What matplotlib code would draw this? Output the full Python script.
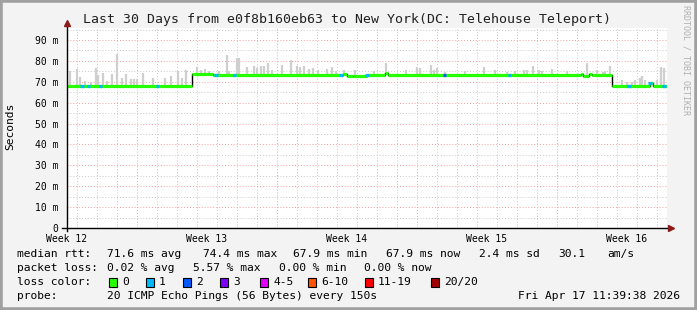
import matplotlib
matplotlib.use("Agg")
import matplotlib.pyplot as plt
import numpy as np
from matplotlib.patches import Rectangle

W, H = 697, 310
MONO = "DejaVu Sans Mono"

# median rtt as a step function (days since start, ms)
med_x = [0, 6.25, 7.3, 13.8, 14.0, 14.3, 15.0, 15.9, 16.05, 25.7, 25.8, 26.1, 26.25, 27.25, 29.13, 29.3, 30]
med_y = [67.9, 73.7, 73.2, 73.5, 72.8, 72.6, 73.2, 74.2, 73.2, 73.6, 72.8, 73.5, 73.2, 67.9, 69.2, 67.9]

# smoke spikes (day, max ms)
spike_day = [0.13, 0.5, 0.63, 0.9, 1.2, 1.47, 1.55, 1.8, 2.0, 2.25, 2.5, 2.75, 2.97, 3.2, 3.35, 3.5,
             3.8, 4.3, 4.88, 5.2, 5.55, 5.75, 5.97,
             6.5, 6.7, 6.9, 7.08, 7.58, 8.0, 8.08, 8.5, 8.58, 9.0, 9.37, 9.5, 9.72, 9.83, 10.03, 10.25,
             10.75, 11.2, 11.5, 11.67, 11.87, 12.12, 12.3, 12.53, 13.0, 13.25, 13.47, 13.87, 14.42,
             15.33, 15.97, 16.97, 17.5, 17.63, 18.22, 18.33, 18.5, 18.92, 19.92, 20.83, 21.42, 22.0, 22.42,
             22.87, 23.0, 23.3, 23.58, 23.75, 24.25, 25.0, 26.0, 26.5, 26.8, 26.92, 27.13,
             27.75, 28.0, 28.25, 28.42, 28.63, 28.75, 28.92, 29.17, 29.5, 29.7, 29.83]
spike_max = [75.2, 76.1, 72.3, 70.5, 70.0, 76.4, 73.2, 74.0, 70.5, 73.6, 83.1, 71.6, 73.6, 71.2, 71.2, 71.2,
             74.0, 72.0, 71.6, 72.9, 75.2, 72.0, 75.6,
             77.2, 75.5, 76.0, 75.2, 75.2, 82.8, 75.2, 81.2, 81.2, 77.2, 77.7, 76.4, 77.7, 77.7, 78.8, 75.6,
             78.0, 80.4, 77.7, 77.2, 77.7, 76.1, 76.6, 75.6, 76.1, 77.2, 75.2, 75.6, 75.6,
             75.2, 78.8, 75.6, 77.2, 76.6, 78.0, 75.6, 76.4, 74.5, 75.2, 77.2, 75.6, 74.8, 75.2,
             75.6, 75.6, 77.7, 75.6, 75.2, 76.1, 75.2, 78.9, 75.6, 74.8, 75.2, 77.7,
             70.9, 69.8, 70.1, 70.9, 71.6, 72.9, 70.9, 70.1, 70.9, 77.2, 76.4]

# points with packet loss
loss_day = [0.75, 1.08, 1.67, 4.53, 7.45, 8.37, 13.7, 15.0, 18.87, 22.13, 28.1, 29.15, 29.85]
loss_col = ['#00b8ff', '#00b8ff', '#00b8ff', '#00b8ff', '#00b8ff', '#00b8ff', '#00b8ff',
            '#00b8ff', '#0059ff', '#00b8ff', '#00b8ff', '#00b8ff', '#00b8ff']

week_pos = [0, 7, 14, 21, 28]
week_labels = ["Week 12", "Week 13", "Week 14", "Week 15", "Week 16"]
y_ticks = [0, 10, 20, 30, 40, 50, 60, 70, 80, 90]

legend_names = ["0", "1", "2", "3", "4-5", "6-10", "11-19", "20/20"]
legend_colors = ['#26ff00', '#00b8ff', '#0059ff', '#7e00ff', '#dd00ff', '#ff5500', '#ff0000', '#a10000']
legend_x = [109, 146, 183, 220, 260, 308, 365, 431]


def med_at(d):
    i = np.searchsorted(med_x, d, side='right') - 1
    i = min(max(i, 0), len(med_y) - 1)
    return med_y[i]


def fx(x):
    return x / W


def fy(y):
    return 1 - y / H


fig = plt.figure(figsize=(W / 100, H / 100), dpi=100, facecolor='#f3f3f3')

# 3d frame
fig.patches.append(Rectangle((0, 0), 1, 1, transform=fig.transFigure, fill=False,
                             edgecolor='#a0a0a0', lw=4))

ax = fig.add_axes([fx(67), fy(228), 600 / W, 200 / H])
ax.set_facecolor('white')
ax.set_xlim(0, 30)
ax.set_ylim(0, 200 / 2.089)
for s in ax.spines.values():
    s.set_visible(False)

# grid
for v in np.arange(5, 96, 5):
    if v % 10 == 0:
        ax.axhline(v, color='#f5a0a0', lw=0.7, ls=(0, (1, 2)), zorder=1)
    else:
        ax.axhline(v, color='#c8c8c8', lw=0.7, ls=(0, (1, 2)), zorder=1)
for d in np.arange(0.5, 30, 1.0):
    if (d - 3.5) % 7 == 0:
        ax.axvline(d, color='#f5a0a0', lw=0.7, ls=(0, (1, 2)), zorder=1)
    else:
        ax.axvline(d, color='#c8c8c8', lw=0.7, ls=(0, (1, 2)), zorder=1)

# smoke
bases = [med_at(d) - 0.4 for d in spike_day]
ax.vlines(spike_day, bases, spike_max, colors='#cfcfcf', lw=1.6, zorder=2)

# median: thin black steps + green thick segments
ax.step(med_x, med_y + [med_y[-1]], where='post', color='black', lw=1.0, zorder=3)
ax.hlines(med_y, med_x[:-1], med_x[1:], colors='#26ff00', lw=2.3, zorder=4)
for d, c in zip(loss_day, loss_col):
    ax.hlines(med_at(d), d - 0.08, d + 0.08, colors=c, lw=2.3, zorder=5)

# axes with arrows
ax.plot([-0.25, 30.1], [0, 0], color='black', lw=1, clip_on=False, zorder=6)
ax.plot([0, 0], [-1.5, 97.5], color='black', lw=1, clip_on=False, zorder=6)
ax.plot([30.2], [0], marker='>', color='#8b1a1a', ms=4, clip_on=False, zorder=7)
ax.plot([0], [97.9], marker='^', color='#8b1a1a', ms=4, clip_on=False, zorder=7)

ax.set_yticks(y_ticks)
ax.set_yticklabels(["0"] + ["%d m" % v for v in y_ticks[1:]], family=MONO, fontsize=7)
ax.set_xticks(week_pos)
ax.set_xticklabels(week_labels, family=MONO, fontsize=7)
ax.tick_params(axis='y', length=0, pad=6)
ax.tick_params(axis='x', length=0, pad=4)

fig.text(fx(347), fy(19), "Last 30 Days from e0f8b160eb63 to New York(DC: Telehouse Teleport)",
         family=MONO, fontsize=9.5, ha='center', va='center', color='#202020')
fig.text(fx(10), fy(126), "Seconds", family=MONO, fontsize=8.1, rotation=90,
         ha='center', va='center')
fig.text(fx(686), fy(60), "RRDTOOL / TOBI OETIKER", family=MONO, fontsize=6, rotation=270,
         ha='center', va='center', color='#b0b0b0')

# legend rows
fs = 8.1
y1, y2, y3, y4 = 254, 268, 282, 296
row1 = [(17, "median rtt:"), (107, "71.6 ms avg"), (203, "74.4 ms max"), (293, "67.9 ms min"),
        (386, "67.9 ms now"), (479, "2.4 ms sd"), (558, "30.1"), (607, "am/s")]
row2 = [(17, "packet loss:"), (107, "0.02 % avg"), (193, "5.57 % max"), (279, "0.00 % min"),
        (364, "0.00 % now")]
for x, t in row1:
    fig.text(fx(x), fy(y1), t, family=MONO, fontsize=fs, va='center')
for x, t in row2:
    fig.text(fx(x), fy(y2), t, family=MONO, fontsize=fs, va='center')
fig.text(fx(17), fy(y3), "loss color:", family=MONO, fontsize=fs, va='center')
for x, name, col in zip(legend_x, legend_names, legend_colors):
    fig.patches.append(Rectangle((fx(x), fy(y3 + 4.5)), 8 / W, 9 / H, transform=fig.transFigure,
                                 facecolor=col, edgecolor='black', lw=0.8))
    fig.text(fx(x + 13), fy(y3), name, family=MONO, fontsize=fs, va='center')
fig.text(fx(17), fy(y4), "probe:", family=MONO, fontsize=fs, va='center')
fig.text(fx(107), fy(y4), "20 ICMP Echo Pings (56 Bytes) every 150s", family=MONO, fontsize=fs,
         va='center')
fig.text(fx(680), fy(y4), "Fri Apr 17 11:39:38 2026", family=MONO, fontsize=fs, va='center',
         ha='right')

fig.savefig("out.png", dpi=100, facecolor=fig.get_facecolor())
